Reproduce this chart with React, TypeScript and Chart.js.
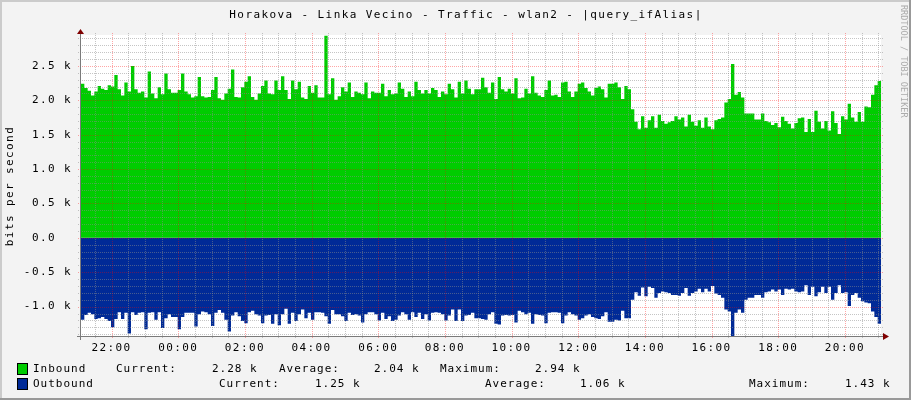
import React, { useEffect, useRef } from 'react';
import { Chart, registerables } from 'chart.js';

Chart.register(...registerables);

const TITLE = 'Horakova - Linka Vecino - Traffic - wlan2 - |query_ifAlias|';
const Y_TITLE = 'bits per second';
const WATERMARK = 'RRDTOOL / TOBI OETIKER';

// time axis in minutes from midnight of the first day
const START_MIN = 21 * 60 + 5;
const SPAN_MIN = 24 * 60;
const STEP_MIN = 6;

const X_TICK_MINUTES = [1320, 1440, 1560, 1680, 1800, 1920, 2040, 2160, 2280, 2400, 2520, 2640];
const X_LABELS = ['22:00', '00:00', '02:00', '04:00', '06:00', '08:00', '10:00', '12:00', '14:00', '16:00', '18:00', '20:00'];

const Y_MIN = -1.427;
const Y_MAX = 2.95;
const Y_TICK_VALUES = [-1.0, -0.5, 0, 0.5, 1.0, 1.5, 2.0, 2.5];
const Y_LABELS = ['-1.0 k', '-0.5 k', '0.0  ', '0.5 k', '1.0 k', '1.5 k', '2.0 k', '2.5 k'];

// kbit/s, 6-minute samples
const inbound = [
  2.24, 2.18, 2.14, 2.07, 2.13, 2.21, 2.17, 2.15, 2.22, 2.20, 2.37, 2.16, 2.07, 2.26, 2.13, 2.50, 2.16, 2.11, 2.13, 2.04,
  2.42, 2.10, 2.03, 2.19, 2.09, 2.39, 2.16, 2.11, 2.11, 2.15, 2.39, 2.13, 2.09, 2.04, 2.06, 2.34, 2.06, 2.04, 2.05, 2.15,
  2.34, 2.03, 2.01, 2.10, 2.17, 2.45, 2.05, 2.04, 2.19, 2.27, 2.35, 2.05, 2.01, 2.10, 2.21, 2.29, 2.10, 2.09, 2.29, 2.15,
  2.35, 2.15, 2.02, 2.29, 2.16, 2.27, 2.04, 2.02, 2.21, 2.11, 2.22, 2.04, 2.04, 2.94, 2.09, 2.32, 2.01, 2.06, 2.19, 2.13,
  2.26, 2.05, 2.13, 2.11, 2.09, 2.26, 2.03, 2.13, 2.11, 2.11, 2.24, 2.06, 2.15, 2.09, 2.10, 2.26, 2.17, 2.05, 2.13, 2.06,
  2.27, 2.15, 2.10, 2.15, 2.10, 2.18, 2.15, 2.05, 2.13, 2.09, 2.24, 2.16, 2.04, 2.27, 2.10, 2.29, 2.17, 2.09, 2.16, 2.16,
  2.33, 2.19, 2.11, 2.26, 2.02, 2.34, 2.16, 2.13, 2.17, 2.10, 2.32, 2.03, 2.04, 2.17, 2.10, 2.35, 2.11, 2.07, 2.05, 2.15,
  2.29, 2.07, 2.08, 2.05, 2.26, 2.27, 2.13, 2.05, 2.13, 2.24, 2.26, 2.18, 2.13, 2.07, 2.18, 2.20, 2.16, 2.04, 2.24, 2.24,
  2.26, 2.19, 2.02, 2.21, 2.16, 1.87, 1.69, 1.58, 1.77, 1.60, 1.71, 1.77, 1.60, 1.79, 1.70, 1.66, 1.68, 1.70, 1.77, 1.72,
  1.75, 1.62, 1.79, 1.69, 1.63, 1.71, 1.60, 1.75, 1.62, 1.58, 1.71, 1.73, 1.75, 1.97, 2.02, 2.53, 2.08, 2.12, 2.04, 1.81,
  1.81, 1.81, 1.72, 1.72, 1.81, 1.70, 1.68, 1.64, 1.67, 1.61, 1.76, 1.70, 1.66, 1.59, 1.67, 1.74, 1.75, 1.54, 1.73, 1.54,
  1.85, 1.69, 1.59, 1.70, 1.56, 1.84, 1.67, 1.51, 1.77, 1.72, 1.95, 1.75, 1.69, 1.83, 1.69, 1.91, 1.90, 2.08, 2.22, 2.28,
];

const outbound = [
  1.19, 1.12, 1.09, 1.11, 1.18, 1.17, 1.15, 1.18, 1.21, 1.30, 1.18, 1.08, 1.18, 1.09, 1.39, 1.08, 1.12, 1.09, 1.08, 1.33,
  1.09, 1.08, 1.19, 1.08, 1.31, 1.17, 1.11, 1.15, 1.15, 1.33, 1.15, 1.09, 1.09, 1.09, 1.29, 1.11, 1.07, 1.08, 1.11, 1.28,
  1.09, 1.05, 1.09, 1.19, 1.36, 1.13, 1.08, 1.14, 1.21, 1.24, 1.08, 1.06, 1.11, 1.13, 1.24, 1.13, 1.12, 1.25, 1.11, 1.27,
  1.11, 1.03, 1.25, 1.09, 1.21, 1.11, 1.04, 1.17, 1.09, 1.19, 1.08, 1.08, 1.09, 1.14, 1.25, 1.05, 1.11, 1.11, 1.14, 1.21,
  1.09, 1.12, 1.11, 1.13, 1.23, 1.11, 1.08, 1.08, 1.11, 1.20, 1.09, 1.18, 1.14, 1.21, 1.19, 1.13, 1.08, 1.11, 1.19, 1.08,
  1.15, 1.09, 1.18, 1.11, 1.20, 1.09, 1.08, 1.09, 1.11, 1.20, 1.13, 1.04, 1.21, 1.04, 1.21, 1.13, 1.12, 1.09, 1.17, 1.17,
  1.18, 1.19, 1.11, 1.08, 1.25, 1.26, 1.13, 1.12, 1.13, 1.12, 1.23, 1.06, 1.08, 1.11, 1.09, 1.25, 1.11, 1.12, 1.13, 1.24,
  1.09, 1.08, 1.08, 1.09, 1.24, 1.13, 1.08, 1.11, 1.13, 1.19, 1.17, 1.13, 1.11, 1.15, 1.17, 1.18, 1.14, 1.08, 1.22, 1.22,
  1.19, 1.20, 1.06, 1.17, 1.17, 0.90, 0.79, 0.84, 0.72, 0.85, 0.71, 0.73, 0.87, 0.80, 0.78, 0.79, 0.80, 0.83, 0.83, 0.84,
  0.80, 0.73, 0.84, 0.80, 0.78, 0.74, 0.79, 0.74, 0.78, 0.70, 0.81, 0.83, 0.87, 1.04, 1.07, 1.43, 1.09, 1.04, 1.09, 0.90,
  0.87, 0.87, 0.83, 0.83, 0.87, 0.79, 0.78, 0.75, 0.78, 0.75, 0.83, 0.74, 0.75, 0.74, 0.78, 0.79, 0.78, 0.69, 0.83, 0.71,
  0.85, 0.79, 0.71, 0.80, 0.71, 0.90, 0.80, 0.69, 0.80, 0.79, 0.99, 0.83, 0.80, 0.87, 0.92, 0.94, 0.95, 1.07, 1.15, 1.25,
];

const SERIES_NAMES = ['Inbound', 'Outbound'];
const STAT_NAMES = ['Current:', 'Average:', 'Maximum:'];
const inboundStats = ['2.28 k', '2.04 k', '2.94 k'];
const outboundStats = ['1.25 k', '1.06 k', '1.43 k'];

const GREEN = '#00CC00';
const BLUE = '#002A97';
const BG = '#F3F3F3';
const MINOR = 'rgba(140,140,140,0.5)';
const MAJOR = 'rgba(255,0,0,0.35)';
const AXIS = '#7A7A7A';
const ARROW = '#7F0000';
const FONT = '"DejaVu Sans Mono", monospace';

function toPoints(vals: number[], sign: number) {
  const pts = vals.map((v, i) => ({ x: START_MIN + i * STEP_MIN, y: sign * v }));
  pts.push({ x: START_MIN + vals.length * STEP_MIN, y: sign * vals[vals.length - 1] });
  return pts;
}

const decorPlugin = {
  id: 'rrdDecor',
  beforeDraw(chart: any) {
    const { ctx, chartArea: a } = chart;
    ctx.save();
    ctx.fillStyle = BG;
    ctx.fillRect(0, 0, chart.width, chart.height);
    ctx.fillStyle = '#FFFFFF';
    ctx.fillRect(a.left, a.top, a.right - a.left, a.bottom - a.top);
    ctx.restore();
    ctx.letterSpacing = '1.4px';
  },
  afterDatasetsDraw(chart: any) {
    const { ctx, chartArea: a } = chart;
    const x = chart.scales.x;
    const y = chart.scales.y;
    ctx.save();
    ctx.lineWidth = 1;
    ctx.setLineDash([1, 1]);
    // horizontal grid
    for (let k = Math.ceil(Y_MIN * 10); k <= Math.floor(Y_MAX * 10); k++) {
      const major = k % 5 === 0;
      const py = Math.round(y.getPixelForValue(k / 10)) + 0.5;
      ctx.strokeStyle = major ? MAJOR : MINOR;
      ctx.beginPath();
      ctx.moveTo(a.left - 3, py);
      ctx.lineTo(a.right + 3, py);
      ctx.stroke();
    }
    // vertical grid
    for (let m = Math.ceil(START_MIN / 30) * 30; m <= START_MIN + SPAN_MIN; m += 30) {
      const major = m % 120 === 0;
      const px = Math.round(x.getPixelForValue(m)) + 0.5;
      ctx.strokeStyle = major ? MAJOR : MINOR;
      ctx.beginPath();
      ctx.moveTo(px, a.top - 2);
      ctx.lineTo(px, a.bottom + 3);
      ctx.stroke();
    }
    ctx.setLineDash([]);
    // axes
    ctx.strokeStyle = AXIS;
    ctx.beginPath();
    ctx.moveTo(a.left - 0.5, a.top - 4);
    ctx.lineTo(a.left - 0.5, a.bottom + 4);
    ctx.stroke();
    ctx.beginPath();
    ctx.moveTo(a.left - 4, a.bottom + 0.5);
    ctx.lineTo(a.right + 4, a.bottom + 0.5);
    ctx.stroke();
    // arrows
    ctx.fillStyle = ARROW;
    ctx.beginPath();
    ctx.moveTo(a.left - 0.5, a.top - 6);
    ctx.lineTo(a.left + 3, a.top - 1);
    ctx.lineTo(a.left - 4, a.top - 1);
    ctx.closePath();
    ctx.fill();
    ctx.beginPath();
    ctx.moveTo(a.right + 8, a.bottom + 0.5);
    ctx.lineTo(a.right + 2, a.bottom - 3);
    ctx.lineTo(a.right + 2, a.bottom + 4);
    ctx.closePath();
    ctx.fill();
    ctx.restore();
  },
  afterDraw(chart: any) {
    const { ctx } = chart;
    ctx.save();
    ctx.fillStyle = '#000000';
    ctx.font = `11px ${FONT}`;
    ctx.letterSpacing = '1.4px';
    ctx.textAlign = 'center';
    ctx.textBaseline = 'middle';
    ctx.fillText(TITLE, 466, 15);

    ctx.save();
    ctx.translate(10.5, 186);
    ctx.rotate(-Math.PI / 2);
    ctx.fillText(Y_TITLE, 0, 0);
    ctx.restore();

    // legend
    ctx.letterSpacing = '1px';
    ctx.textAlign = 'left';
    const rows = [
      { color: GREEN, name: SERIES_NAMES[0], stats: inboundStats, y: 369, xs: [116, 212, 279, 374, 440, 535] },
      { color: BLUE, name: SERIES_NAMES[1], stats: outboundStats, y: 384, xs: [219, 315, 485, 580, 749, 845] },
    ];
    rows.forEach((r) => {
      ctx.fillStyle = r.color;
      ctx.fillRect(18, r.y - 5, 9, 10);
      ctx.strokeStyle = '#000000';
      ctx.lineWidth = 1;
      ctx.strokeRect(17.5, r.y - 5.5, 10, 11);
      ctx.fillStyle = '#000000';
      ctx.fillText(r.name, 33, r.y);
      for (let i = 0; i < 3; i++) {
        ctx.fillText(STAT_NAMES[i], r.xs[i * 2], r.y);
        ctx.fillText(r.stats[i], r.xs[i * 2 + 1], r.y);
      }
    });

    // watermark
    ctx.save();
    ctx.translate(903, 5);
    ctx.rotate(Math.PI / 2);
    ctx.font = `8.5px ${FONT}`;
    ctx.letterSpacing = '0px';
    ctx.fillStyle = '#ABABAB';
    ctx.textAlign = 'left';
    ctx.textBaseline = 'middle';
    ctx.fillText(WATERMARK, 0, 0);
    ctx.restore();

    // frame
    ctx.fillStyle = '#CBCBCB';
    ctx.fillRect(0, 0, chart.width, 2);
    ctx.fillRect(0, 0, 2, chart.height);
    ctx.fillStyle = '#999999';
    ctx.fillRect(0, chart.height - 2, chart.width, 2);
    ctx.fillRect(chart.width - 2, 0, 2, chart.height);
    ctx.restore();
  },
};

export default function App() {
  const ref = useRef<HTMLCanvasElement>(null);
  useEffect(() => {
    if (!ref.current) return;
    const chart = new Chart(ref.current, {
      type: 'line',
      data: {
        datasets: [
          {
            label: SERIES_NAMES[0],
            data: toPoints(inbound, 1),
            stepped: true,
            fill: 'origin',
            backgroundColor: GREEN,
            borderColor: 'rgba(0,0,0,0)',
            borderWidth: 1,
            pointRadius: 0,
          },
          {
            label: SERIES_NAMES[1],
            data: toPoints(outbound, -1),
            stepped: true,
            fill: 'origin',
            backgroundColor: BLUE,
            borderColor: 'rgba(0,0,0,0)',
            borderWidth: 1,
            pointRadius: 0,
          },
        ],
      },
      options: {
        responsive: false,
        devicePixelRatio: 1,
        animation: false,
        events: [],
        layout: { padding: { top: 35, right: 30, bottom: 0, left: 0 } },
        plugins: { legend: { display: false }, tooltip: { enabled: false }, title: { display: false } },
        scales: {
          x: {
            type: 'linear',
            min: START_MIN,
            max: START_MIN + SPAN_MIN,
            grid: { display: false, drawTicks: false },
            border: { display: false },
            afterBuildTicks: (axis: any) => {
              axis.ticks = X_TICK_MINUTES.map((v) => ({ value: v }));
            },
            afterFit: (axis: any) => {
              axis.height = 64;
            },
            ticks: {
              autoSkip: false,
              maxRotation: 0,
              padding: 6,
              color: '#000000',
              font: { family: FONT, size: 11 },
              callback: (_v: any, i: number) => X_LABELS[i],
            },
          },
          y: {
            type: 'linear',
            min: Y_MIN,
            max: Y_MAX,
            grid: { display: false, drawTicks: false },
            border: { display: false },
            afterBuildTicks: (axis: any) => {
              axis.ticks = Y_TICK_VALUES.map((v) => ({ value: v }));
            },
            afterFit: (axis: any) => {
              axis.width = 81;
            },
            ticks: {
              autoSkip: false,
              padding: 9,
              color: '#000000',
              font: { family: FONT, size: 11 },
              callback: (_v: any, i: number) => Y_LABELS[i],
            },
          },
        },
      },
      plugins: [decorPlugin],
    });
    return () => chart.destroy();
  }, []);
  return (
    <div style={{ position: 'fixed', left: 0, top: 0, width: 911, height: 400 }}>
      <canvas ref={ref} width={911} height={400} style={{ display: 'block', width: 911, height: 400 }} />
    </div>
  );
}
